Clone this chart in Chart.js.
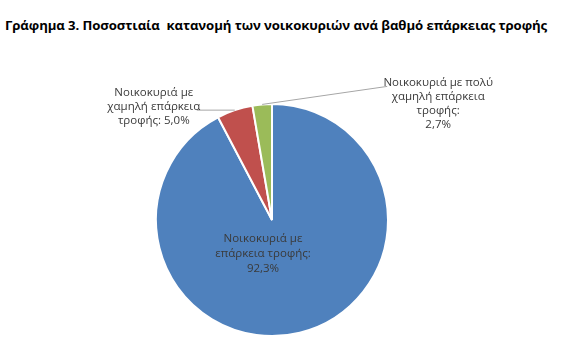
<!DOCTYPE html>
<html>
<head>
<meta charset="utf-8">
<script src="https://cdn.jsdelivr.net/npm/chart.js@4.4.0/dist/chart.umd.min.js"></script>
<style>
html,body{margin:0;padding:0;background:#fff;}
#wrap{position:relative;width:573px;height:356px;}
#title{position:absolute;left:5px;top:16px;font-family:"Open Sans",sans-serif;font-weight:bold;font-size:13.2px;line-height:18px;color:#000;white-space:pre;letter-spacing:-0.1px;}
canvas{position:absolute;left:0;top:0;}
</style>
</head>
<body>
<div id="wrap">
<div id="title">Γράφημα 3. Ποσοστιαία  κατανομή των νοικοκυριών ανά βαθμό επάρκειας τροφής</div>
<canvas id="c" width="573" height="356"></canvas>
</div>
<script>
const categories = ['Νοικοκυριά με επάρκεια τροφής', 'Νοικοκυριά με χαμηλή επάρκεια τροφής', 'Νοικοκυριά με πολύ χαμηλή επάρκεια τροφής'];
const values = [92.3, 5.0, 2.7];
const colors = ['#4F81BD', '#C0504D', '#9BBB59'];
const labelLines = [
  ['Νοικοκυριά με', 'επάρκεια τροφής:', '92,3%'],
  ['Νοικοκυριά με', 'χαμηλή επάρκεια', 'τροφής: 5,0%'],
  ['Νοικοκυριά με πολύ', 'χαμηλή επάρκεια', 'τροφής:', '2,7%']
];

const labelPlugin = {
  id: 'pieLabels',
  afterDatasetsDraw(chart) {
    const ctx = chart.ctx;
    const meta = chart.getDatasetMeta(0);
    ctx.save();
    ctx.font = '11.5px "Open Sans", sans-serif';
    ctx.fillStyle = '#3a3a3a';
    ctx.textAlign = 'center';
    ctx.textBaseline = 'middle';
    ctx.strokeStyle = '#a6a6a6';
    ctx.lineWidth = 1;
    meta.data.forEach((arc, i) => {
      const p = arc.getProps(['x', 'y', 'startAngle', 'endAngle', 'outerRadius'], true);
      const mid = (p.startAngle + p.endAngle) / 2;
      const ax = p.x + Math.cos(mid) * p.outerRadius;
      const ay = p.y + Math.sin(mid) * p.outerRadius;
      const lines = labelLines[i];
      if (i === 0) {
        const tx = p.x - 9, ty = p.y + 19;
        lines.forEach((t, k) => ctx.fillText(t, tx, ty + k * 15));
      } else if (i === 1) {
        ctx.beginPath();
        ctx.moveTo(ax, ay);
        ctx.lineTo(ax - 38, ay);
        ctx.stroke();
        const tx = ax - 81, ty = ay - 17;
        lines.forEach((t, k) => ctx.fillText(t, tx, ty + k * 13.8));
      } else {
        ctx.beginPath();
        ctx.moveTo(ax, ay);
        ctx.lineTo(ax + 125, ay - 18);
        ctx.stroke();
        const tx = ax + 176, ty = ay - 22;
        lines.forEach((t, k) => ctx.fillText(t, tx, ty + k * 14.1));
      }
    });
    ctx.restore();
  }
};

new Chart(document.getElementById('c'), {
  type: 'pie',
  data: {
    labels: categories,
    datasets: [{
      data: values,
      backgroundColor: colors,
      borderColor: '#ffffff',
      borderWidth: 2
    }]
  },
  options: {
    responsive: false,
    animation: false,
    layout: { padding: { left: 155, right: 184, top: 103, bottom: 19 } },
    plugins: {
      legend: { display: false },
      tooltip: { enabled: false },
      title: { display: false }
    }
  },
  plugins: [labelPlugin]
});
</script>
</body>
</html>
